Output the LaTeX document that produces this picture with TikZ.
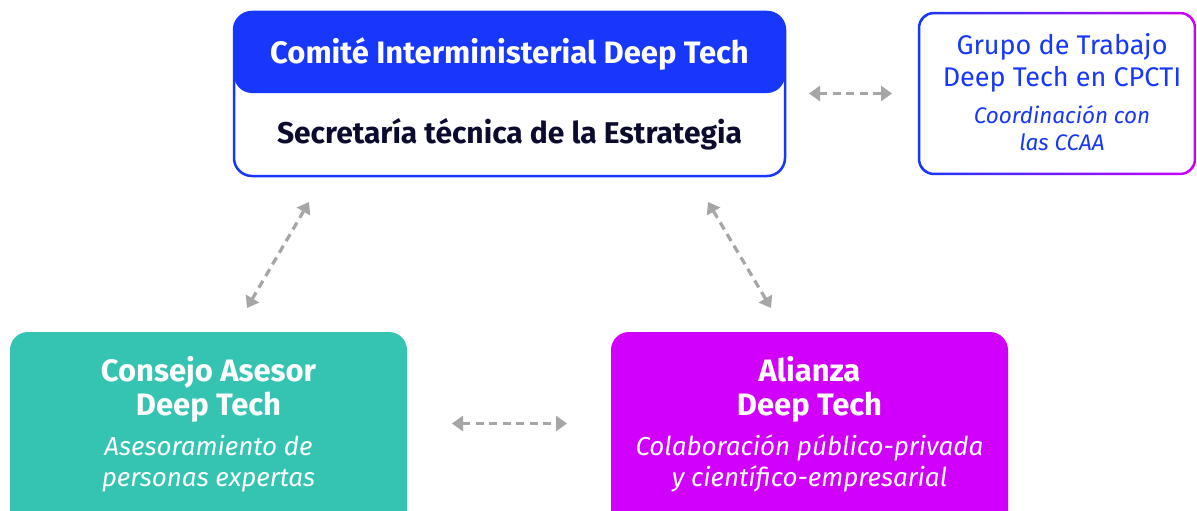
\documentclass[tikz,border=0pt]{standalone}
\usepackage{fontspec}
\setmainfont{Fira Sans}
\usetikzlibrary{arrows.meta}
\definecolor{cblue}{HTML}{1737FA}
\definecolor{cnavy}{HTML}{0B0B2E}
\definecolor{cteal}{HTML}{36C4B2}
\definecolor{cmag}{HTML}{D000FC}
\definecolor{cgray}{HTML}{A6A6A6}
\begin{document}
\begin{tikzpicture}[x=1pt,y=-1pt,
  box/.style={rounded corners=18pt, inner sep=0pt, outer sep=0pt},
  conn/.style={cgray, line width=3.2pt, dash pattern=on 8pt off 5.5pt,
    {Triangle[width=15pt,length=11pt]}-{Triangle[width=15pt,length=11pt]}},
  ttl/.style={font=\bfseries\fontsize{31}{31}\selectfont, anchor=base, inner sep=0pt},
  sec/.style={font=\bfseries\fontsize{30}{30}\selectfont, anchor=base, inner sep=0pt},
  itl/.style={font=\itshape\fontsize{26}{26}\selectfont, anchor=base, inner sep=0pt},
  gttl/.style={font=\fontsize{27}{27}\selectfont, anchor=base, inner sep=0pt, text=cblue},
  gitl/.style={font=\itshape\fontsize{22.5}{22.5}\selectfont, anchor=base, inner sep=0pt, text=cblue}]
\clip (0,0) rectangle (1197,511);
\fill[white] (0,0) rectangle (1197,511);
% top box
\node[box, fill=white, minimum width=551pt, minimum height=164pt] (top) at (509.5,94) {};
\node[box, fill=cblue, minimum width=551pt, minimum height=81pt, anchor=north] (head) at (top.north) {};
\draw[cblue, line width=2.5pt, rounded corners=18pt] (top.north west) rectangle (top.south east);
\node[ttl, text=white] (headtxt) at (509.5,64) {Comité Interministerial Deep Tech};
\node[sec, text=cnavy] (sectxt) at (509.5,143) {Secretaría técnica de la Estrategia};
% grupo box
\node[inner sep=0pt, minimum width=278pt, minimum height=163pt] (grupo) at (1057,93.5) {};
\shade[left color=cblue, right color=cmag, even odd rule]
  [rounded corners=16pt] (grupo.north west) rectangle (grupo.south east)
  [rounded corners=13.5pt] ([xshift=2.5pt,yshift=-2.5pt]grupo.north west) rectangle ([xshift=-2.5pt,yshift=2.5pt]grupo.south east);
\node[gttl] (g1) at (1062,55) {Grupo de Trabajo};
\node[gttl] (g2) at (1062,86.5) {Deep Tech en CPCTI};
\node[gitl] (g3) at (1062,123) {Coordinación con};
\node[gitl] (g4) at (1062,150.5) {las CCAA};
% consejo box
\node[box, fill=cteal, minimum width=397pt, minimum height=200pt, anchor=north west] (consejo) at (10,332) {};
\node[ttl, text=white] (c1) at (208.5,381) {Consejo Asesor};
\node[ttl, text=white] (c2) at (208.5,415) {Deep Tech};
\node[itl, text=white] (c3) at (208.5,455) {Asesoramiento de};
\node[itl, text=white] (c4) at (208.5,486) {personas expertas};
% alianza box
\node[box, fill=cmag, minimum width=397pt, minimum height=200pt, anchor=north west] (alianza) at (611,332) {};
\node[ttl, text=white] (a1) at (809.5,381) {Alianza};
\node[ttl, text=white] (a2) at (809.5,415) {Deep Tech};
\node[itl, text=white] (a3) at (809.5,455) {Colaboración público-privada};
\node[itl, text=white] (a4) at (809.5,486) {y científico-empresarial};
% connector ends
\coordinate (tg1) at (809,93.5);
\coordinate (tg2) at (892,93.5);
\coordinate (tc1) at (309,202);
\coordinate (tc2) at (247,308);
\coordinate (ta1) at (708,202);
\coordinate (ta2) at (771,308);
\coordinate (ca1) at (452,423.5);
\coordinate (ca2) at (567,423.5);
\draw[conn] (tg1) -- (tg2);
\draw[conn] (tc1) -- (tc2);
\draw[conn] (ta1) -- (ta2);
\draw[conn] (ca1) -- (ca2);
\end{tikzpicture}
\end{document}
